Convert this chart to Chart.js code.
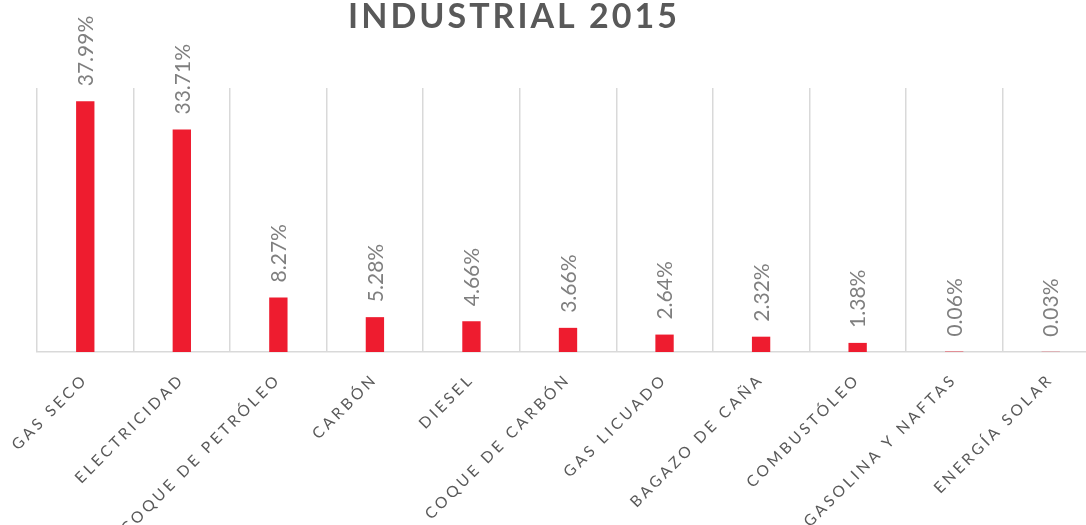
<!DOCTYPE html>
<html>
<head>
<meta charset="utf-8">
<script src="https://cdn.jsdelivr.net/npm/chart.js@4"></script>
<style>
    html, body { margin: 0; padding: 0; background: #fff; overflow: hidden; }
    #wrap { position: relative; width: 1100px; height: 525px; }
</style>
</head>
<body>
<div id="wrap"><canvas id="bar-chart"></canvas></div>
<script>
// datos
const titulo = 'INDUSTRIAL 2015';
const categorias = ['GAS SECO', 'ELECTRICIDAD', 'COQUE DE PETRÓLEO', 'CARBÓN', 'DIESEL',
    'COQUE DE CARBÓN', 'GAS LICUADO', 'BAGAZO DE CAÑA', 'COMBUSTÓLEO', 'GASOLINA Y NAFTAS', 'ENERGÍA SOLAR'];
const porcentajes = [37.99, 33.71, 8.27, 5.28, 4.66, 3.66, 2.64, 2.32, 1.38, 0.06, 0.03];
const etiquetas = ['37.99%', '33.71%', '8.27%', '5.28%', '4.66%', '3.66%', '2.64%', '2.32%', '1.38%', '0.06%', '0.03%'];

// titulo dibujado a mano (centrado en la ventana, no en el canvas)
const tituloPlugin = {
    id: 'tituloPlugin',
    afterDraw(chart) {
        const ctx = chart.ctx;
        ctx.save();
        ctx.letterSpacing = '3px';
        ctx.font = 'bold 34px Lato';
        ctx.fillStyle = '#595959';
        ctx.textAlign = 'center';
        ctx.textBaseline = 'middle';
        ctx.fillText(titulo, 514, 17);
        ctx.restore();
    }
};

// etiquetas de valor giradas encima de cada barra
const valoresPlugin = {
    id: 'valores',
    afterDatasetsDraw(chart) {
        const ctx = chart.ctx;
        const meta = chart.getDatasetMeta(0);
        ctx.save();
        ctx.letterSpacing = '0px';
        ctx.font = '21px Lato';
        ctx.fillStyle = '#7f7f7f';
        ctx.textAlign = 'left';
        ctx.textBaseline = 'middle';
        meta.data.forEach((bar, i) => {
            ctx.save();
            ctx.translate(bar.x + 1, bar.y - 15);
            ctx.rotate(-Math.PI / 2);
            ctx.fillText(etiquetas[i], 0, 0);
            ctx.restore();
        });
        ctx.restore();
    }
};

// espaciado entre letras solo para las etiquetas del eje x
const espaciado = {
    id: 'espaciado',
    beforeDraw(chart) { chart.ctx.letterSpacing = '3.3px'; },
    beforeDatasetsDraw(chart) { chart.ctx.letterSpacing = '0px'; }
};

const ctx = document.getElementById('bar-chart').getContext('2d');
const myChart = new Chart(ctx, {
    type: 'bar',
    data: {
        labels: categorias,
        datasets: [{
            label: titulo,
            data: porcentajes,
            backgroundColor: '#ee1c2f',
            barPercentage: 0.19,
            categoryPercentage: 1
        }]
    },
    options: {
        responsive: true,
        maintainAspectRatio: false,
        animation: false,
        layout: {
            padding: { left: 37, right: 1, top: 88, bottom: 0 }
        },
        scales: {
            x: {
                grid: {
                    color: '#d9d9d9',
                    lineWidth: 1.5,
                    drawTicks: false,
                    offset: true
                },
                border: { color: '#d9d9d9', width: 1.5 },
                ticks: {
                    color: '#595959',
                    font: { family: 'Lato', size: 15.5 },
                    maxRotation: 45,
                    minRotation: 45,
                    autoSkip: false,
                    padding: 18
                },
                afterFit: s => { s.height = 173; }
            },
            y: {
                display: false,
                min: 0,
                max: 40
            }
        },
        plugins: {
            legend: { display: false },
            tooltip: { enabled: false },
            title: { display: false }
        }
    },
    plugins: [valoresPlugin, espaciado, tituloPlugin]
});
</script>
</body>
</html>
